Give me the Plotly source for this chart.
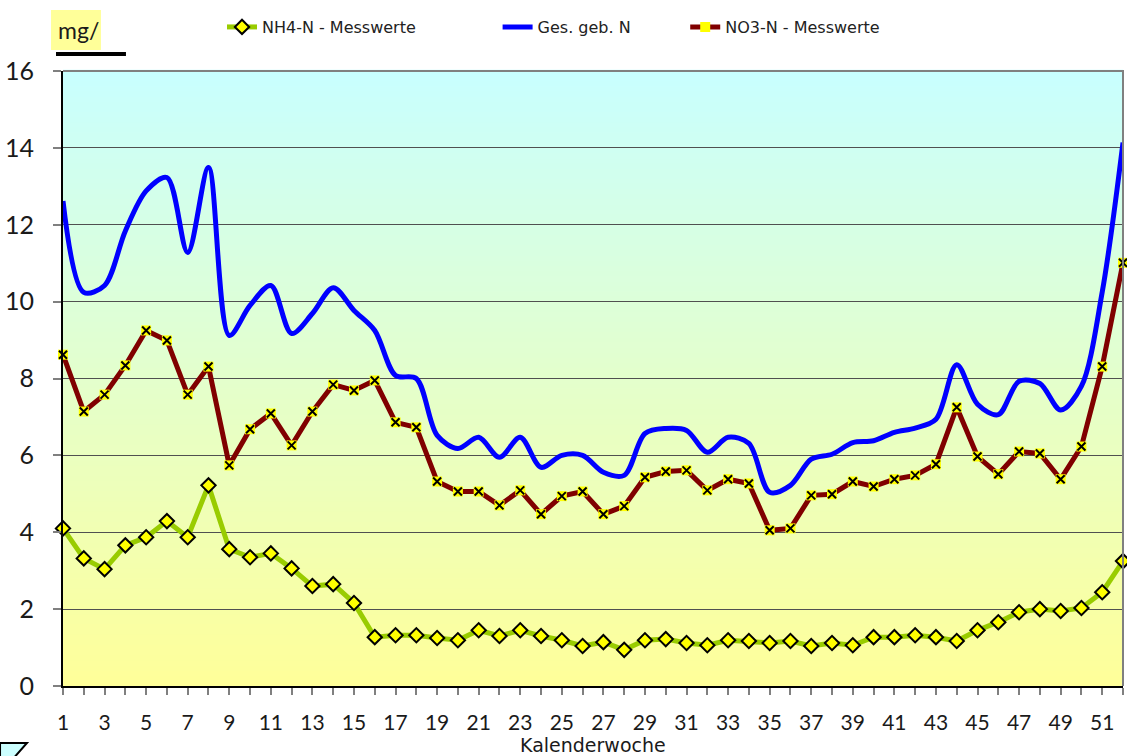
import plotly.graph_objects as go

weeks = list(range(1, 53))

nh4 = [4.10, 3.32, 3.04, 3.66, 3.87, 4.29, 3.87, 5.22, 3.56, 3.35,
       3.45, 3.06, 2.60, 2.65, 2.16, 1.27, 1.32, 1.32, 1.25, 1.19,
       1.45, 1.30, 1.45, 1.30, 1.19, 1.04, 1.14, 0.94, 1.19, 1.22,
       1.12, 1.06, 1.19, 1.17, 1.12, 1.17, 1.04, 1.12, 1.06, 1.27,
       1.27, 1.32, 1.27, 1.17, 1.45, 1.66, 1.92, 2.00, 1.95, 2.03,
       2.44, 3.25]

no3 = [8.62, 7.14, 7.58, 8.34, 9.25, 8.99, 7.58, 8.31, 5.74, 6.68,
       7.09, 6.26, 7.14, 7.84, 7.69, 7.95, 6.86, 6.73, 5.32, 5.06,
       5.06, 4.70, 5.09, 4.47, 4.94, 5.06, 4.47, 4.68, 5.43, 5.58,
       5.61, 5.09, 5.38, 5.27, 4.05, 4.10, 4.96, 4.99, 5.32, 5.19,
       5.38, 5.48, 5.77, 7.25, 5.97, 5.51, 6.10, 6.05, 5.38, 6.23,
       8.31, 11.01]

ges_n = [12.62, 10.24, 10.42, 11.84, 12.88, 13.23, 11.28, 13.49, 9.12, 9.90,
         10.42, 9.17, 9.69, 10.36, 9.77, 9.25, 8.08, 8.00, 6.52, 6.18,
         6.47, 5.95, 6.47, 5.69, 6.00, 6.00, 5.56, 5.48, 6.57, 6.70,
         6.65, 6.08, 6.47, 6.31, 5.04, 5.22, 5.90, 6.03, 6.33, 6.38,
         6.60, 6.71, 6.94, 8.36, 7.33, 7.06, 7.93, 7.87, 7.18, 7.80,
         10.25, 14.14]

FONT = "Lato"
TEXT_FONT = "DejaVu Sans"

fig = go.Figure()

fig.add_trace(go.Scatter(
    x=weeks, y=nh4, name="NH4-N - Messwerte", mode="lines+markers",
    line=dict(color="#99CC00", width=5),
    marker=dict(symbol="diamond", size=11, color="#FFFF00", line=dict(color="black", width=2)),
    cliponaxis=False, legend="legend"))

fig.add_trace(go.Scatter(
    x=weeks, y=ges_n, name="Ges. geb. N", mode="lines",
    line=dict(color="#0000FF", width=5, shape="spline", smoothing=0.9),
    cliponaxis=False, legend="legend2"))

fig.add_trace(go.Scatter(
    x=weeks, y=no3, name="NO3-N - Messwerte", mode="lines+markers",
    line=dict(color="#800000", width=5),
    marker=dict(symbol="square", size=10, color="#FFFF00"),
    cliponaxis=False, legend="legend3", legendgroup="no3"))
# schwarzes x auf den gelben Quadraten
fig.add_trace(go.Scatter(
    x=weeks, y=no3, mode="markers", showlegend=False, hoverinfo="skip",
    marker=dict(symbol="x-thin", size=8, line=dict(color="black", width=2)),
    cliponaxis=False, legendgroup="no3"))

# Hintergrund-Verlauf (cyan oben -> gelb unten)
shapes = []
n = 120
c_top = (0xC8, 0xFF, 0xFF)
c_bot = (0xFF, 0xFF, 0x99)
for i in range(n):
    t = (i + 0.5) / n
    col = tuple(round(c_bot[k] + (c_top[k] - c_bot[k]) * t) for k in range(3))
    shapes.append(dict(type="rect", xref="x domain", yref="y domain",
                       x0=0, x1=1, y0=i / n, y1=(i + 1) / n + 0.002,
                       fillcolor="rgb(%d,%d,%d)" % col, line=dict(width=0), layer="below"))

# Rahmen oben/rechts grau
shapes.append(dict(type="path", xref="x domain", yref="y domain",
                   path="M 0,1 L 1,1 L 1,0", line=dict(color="#808080", width=2), layer="above"))
# gelbes Feld mit "mg/"
shapes.append(dict(type="rect", xref="paper", yref="paper",
                   x0=-0.0113, x1=0.0358, y0=1.034, y1=1.099,
                   fillcolor="#FFFF99", line=dict(width=0)))
shapes.append(dict(type="line", xref="paper", yref="paper",
                   x0=-0.0066, x1=0.0594, y0=1.0276, y1=1.0276,
                   line=dict(color="black", width=4)))
# Rest einer Form unten links
shapes.append(dict(type="path", xref="paper", yref="paper",
                   path="M -0.0594,-0.0927 L -0.0340,-0.0927 L -0.0481,-0.1203 L -0.0594,-0.1203 Z",
                   fillcolor="#CCFFFF", line=dict(color="black", width=2)))

leg = dict(y=1.0715, xanchor="left", yanchor="middle",
           font=dict(size=16, family=TEXT_FONT, color="#222"),
           bgcolor="rgba(0,0,0,0)", itemwidth=30)

fig.update_layout(
    width=1127, height=756,
    margin=dict(l=63, r=4, t=71, b=70, autoexpand=False),
    paper_bgcolor="white", plot_bgcolor="white",
    font=dict(family=FONT, color="#1a1a1a"),
    shapes=shapes,
    legend=dict(leg, x=0.15),
    legend2=dict(leg, x=0.41),
    legend3=dict(leg, x=0.587),
    annotations=[
        dict(text="mg/", xref="paper", yref="paper", x=-0.0066, y=1.066,
             xanchor="left", yanchor="middle", showarrow=False,
             font=dict(size=23, color="#1a1a1a")),
        dict(text="Kalenderwoche", xref="paper", yref="paper", x=0.5, y=-0.0959,
             xanchor="center", yanchor="middle", showarrow=False,
             font=dict(size=19, family=TEXT_FONT, color="#1a1a1a")),
    ],
)

fig.update_xaxes(
    range=[1, 52], tickmode="array", tickvals=weeks,
    ticktext=[str(w) if w % 2 == 1 else "" for w in weeks],
    ticks="outside", ticklen=7, tickcolor="#808080", tickwidth=2,
    showgrid=False, zeroline=False,
    showline=True, linecolor="black", linewidth=2,
    tickfont=dict(size=21), ticklabelstandoff=10,
)
fig.update_yaxes(
    range=[0, 16], dtick=2, tick0=0,
    ticks="outside", ticklen=8, tickcolor="#808080", tickwidth=2,
    showgrid=True, gridcolor="#505050", gridwidth=1,
    zeroline=False,
    showline=True, linecolor="black", linewidth=2,
    tickfont=dict(size=25), ticklabelstandoff=14,
)

# Seitenrand entfernen, damit die Grafik bei 0,0 beginnt
fig.write_html("out.html", config={"displayModeBar": False},
               post_script="document.body.style.margin='0';")
